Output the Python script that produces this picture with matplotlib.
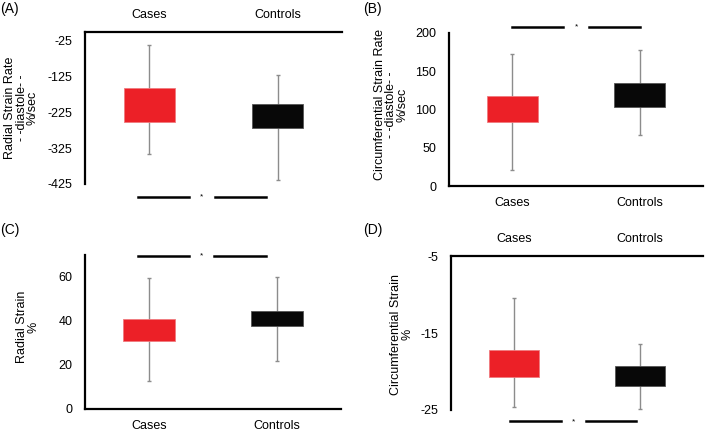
import matplotlib.pyplot as plt
import matplotlib.transforms as mtransforms
import numpy as np

plt.rcParams["font.family"] = ["Liberation Sans", "DejaVu Sans"]
plt.rcParams["axes.unicode_minus"] = False

groups = ["Cases", "Controls"]
box_colors = ["#ec2027", "#080808"]

# radial strain rate, diastole (%/sec)
a_q_low = [-253, -269]
a_q_high = [-156, -203]
a_w_low = [-342, -414]
a_w_high = [-36, -120]

# circumferential strain rate, diastole (%/sec)
b_q_low = [83, 103]
b_q_high = [118, 134]
b_w_low = [21, 67]
b_w_high = [173, 178]

# radial strain (%)
c_q_low = [31, 37.7]
c_q_high = [41, 44.7]
c_w_low = [12.7, 22]
c_w_high = [59.4, 60]

# circumferential strain (%)
d_q_low = [-20.7, -21.9]
d_q_high = [-17.2, -19.3]
d_w_low = [-24.65, -24.9]
d_w_high = [-10.4, -16.4]

fig = plt.figure(figsize=(7.09, 4.44), dpi=100)


def panel(rect, q_low, q_high, w_low, w_high, ylim, yticks, ylabel, label_xy,
          top, sig_y, sig_shift, letter, letter_xy):
    ax = fig.add_axes(rect)
    x = np.arange(len(groups))
    ax.vlines(x, w_low, w_high, color="#8c8c8c", lw=1, zorder=1)
    ax.plot(x, w_low, ls="none", marker="_", ms=3, color="#8c8c8c", zorder=1)
    ax.plot(x, w_high, ls="none", marker="_", ms=3, color="#8c8c8c", zorder=1)
    ax.bar(x, np.array(q_high) - np.array(q_low), bottom=q_low, width=0.4,
           color=box_colors, edgecolor=["#f07a7e", "#555555"], lw=0.6, zorder=2)
    ax.set_xlim(-0.5, 1.5)
    ax.set_ylim(*ylim)
    ax.set_yticks(yticks)
    ax.set_xticks(x)
    ax.set_xticklabels(groups, fontsize=9)
    ax.tick_params(axis="y", length=0, pad=9, labelsize=9)
    ax.tick_params(axis="x", length=0, pad=8)
    ax.spines["right"].set_visible(False)
    if top:
        ax.spines["bottom"].set_visible(False)
        ax.xaxis.tick_top()
    else:
        ax.spines["top"].set_visible(False)
    for s in ["left", "top", "bottom"]:
        ax.spines[s].set_linewidth(1.6)
    ax.set_ylabel(ylabel, fontsize=9, linespacing=0.92)
    ax.yaxis.set_label_coords(*label_xy)

    # significance bar
    trans = mtransforms.blended_transform_factory(ax.transData, ax.transAxes)
    for x0, x1 in [(0.0, 0.4), (0.6, 1.0)]:
        ax.plot([x0 + sig_shift, x1 + sig_shift], [sig_y, sig_y], color="black",
                lw=1.8, transform=trans, clip_on=False)
    ax.text(0.5 + sig_shift, sig_y, "*", transform=trans, ha="center",
            va="center", fontsize=6)
    fig.text(letter_xy[0], letter_xy[1], letter, fontsize=10, ha="left", va="top")
    return ax


panel([0.120, 0.586, 0.362, 0.342], a_q_low, a_q_high, a_w_low, a_w_high,
      (-425, 0), [-25, -125, -225, -325, -425],
      "Radial Strain Rate\n- -diastole- -\n%/sec", (-0.18, 0.5),
      True, -0.086, -0.09, "(A)", (0.0, 0.995))

panel([0.633, 0.581, 0.359, 0.345], b_q_low, b_q_high, b_w_low, b_w_high,
      (0, 200), [0, 50, 100, 150, 200],
      "Circumferential Strain Rate\n- -diastole- -\n%/sec", (-0.158, 0.53),
      False, 1.04, 0.0, "(B)", (0.512, 0.995))

panel([0.120, 0.079, 0.361, 0.347], c_q_low, c_q_high, c_w_low, c_w_high,
      (0, 70), [0, 20, 40, 60],
      "Radial Strain\n%", (-0.18, 0.53),
      False, 0.995, -0.09, "(C)", (0.0, 0.497))

panel([0.636, 0.077, 0.356, 0.346], d_q_low, d_q_high, d_w_low, d_w_high,
      (-25, -5), [-5, -15, -25],
      "Circumferential Strain\n%", (-0.15, 0.49),
      True, -0.076, -0.03, "(D)", (0.512, 0.497))

fig.savefig("out.png", dpi=100)
